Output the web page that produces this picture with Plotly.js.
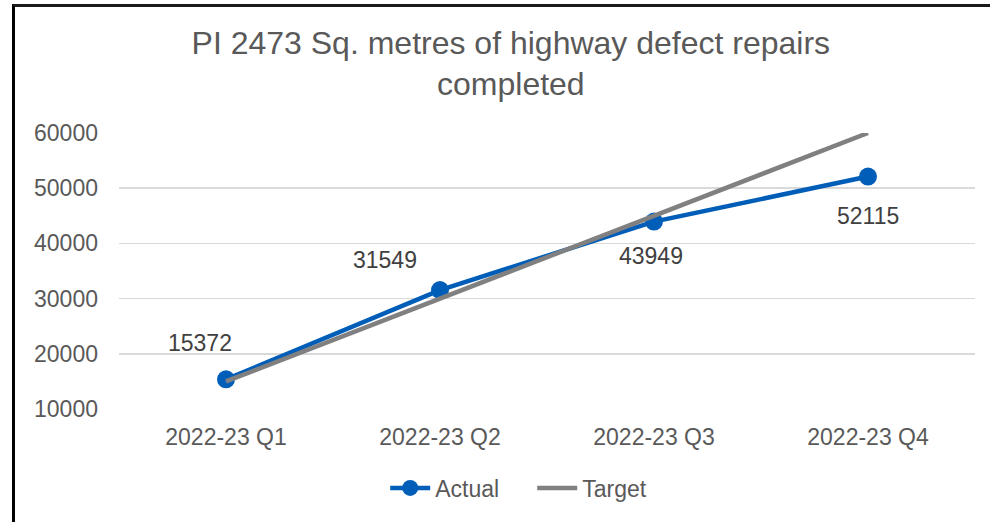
<!DOCTYPE html>
<html>
<head>
<meta charset="utf-8">
<script src="https://cdn.plot.ly/plotly-3.0.1.min.js"></script>
<style>
html,body{margin:0;padding:0;background:#fff;overflow:hidden;}
#wrap{position:relative;width:990px;height:522px;}
#chart{position:absolute;left:0;top:0;width:990px;height:522px;}
#frame{position:absolute;left:12px;top:4px;width:1100px;height:700px;border-left:3px solid #000;border-top:3px solid #1a1a1a;pointer-events:none;}
</style>
</head>
<body>
<div id="wrap"><div id="chart"></div><div id="frame"></div></div>
<script>
const categories = ["2022-23 Q1", "2022-23 Q2", "2022-23 Q3", "2022-23 Q4"];
const actual = [15372, 31549, 43949, 52115];
const target = [15000, 30000, 45000, 60000];
const yTicks = [10000, 20000, 30000, 40000, 50000, 60000];
const labelShiftX = [-26, -55, -3, 0];
const labelShiftY = [36, 30, -34, -39];

const FONT = "Liberation Sans, Arial, sans-serif";
const traces = [
  {
    x: categories, y: actual, name: "Actual", type: "scatter", mode: "lines+markers",
    line: {color: "#005EB8", width: 4.5},
    marker: {color: "#005EB8", size: 18},
    hoverinfo: "skip"
  },
  {
    x: categories, y: target, name: "Target", type: "scatter", mode: "lines",
    line: {color: "#808080", width: 4.5},
    hoverinfo: "skip"
  }
];

const annotations = categories.map((c, i) => ({
  x: c, y: actual[i], xref: "x", yref: "y",
  text: String(actual[i]), showarrow: false,
  xshift: labelShiftX[i], yshift: labelShiftY[i],
  font: {family: FONT, size: 23, color: "#404040"}
}));

const layout = {
  width: 990, height: 522,
  margin: {l: 119, r: 15, t: 133, b: 113},
  paper_bgcolor: "#fff", plot_bgcolor: "#fff",
  font: {family: FONT, size: 23, color: "#595959"},
  title: {
    text: "PI 2473 Sq. metres of highway defect repairs<br>completed",
    font: {family: FONT, size: 32, color: "#595959"},
    x: 0.516, xanchor: "center", y: 0.897, yanchor: "middle"
  },
  xaxis: {
    type: "category", range: [-0.5, 3.5], showgrid: false, zeroline: false,
    showline: false, ticks: "", ticklabelstandoff: 12,
    tickfont: {family: FONT, size: 23, color: "#595959"}, fixedrange: true
  },
  yaxis: {
    range: [10000, 60000], tickvals: yTicks, ticktext: yTicks.map(String),
    showgrid: true, gridcolor: "#d9d9d9", gridwidth: 1.5, zeroline: false,
    showline: false, ticks: "", ticklabelstandoff: 20,
    tickfont: {family: FONT, size: 23, color: "#595959"}, fixedrange: true
  },
  showlegend: true,
  legend: {
    orientation: "h", x: 0.311, xanchor: "left", y: -0.286, yanchor: "middle",
    font: {family: FONT, size: 23, color: "#595959"}, itemwidth: 40,
    entrywidth: 92, entrywidthmode: "pixels",
    bgcolor: "rgba(0,0,0,0)"
  },
  annotations: annotations
};

Plotly.newPlot("chart", traces, layout, {displayModeBar: false, staticPlot: true});
</script>
</body>
</html>
